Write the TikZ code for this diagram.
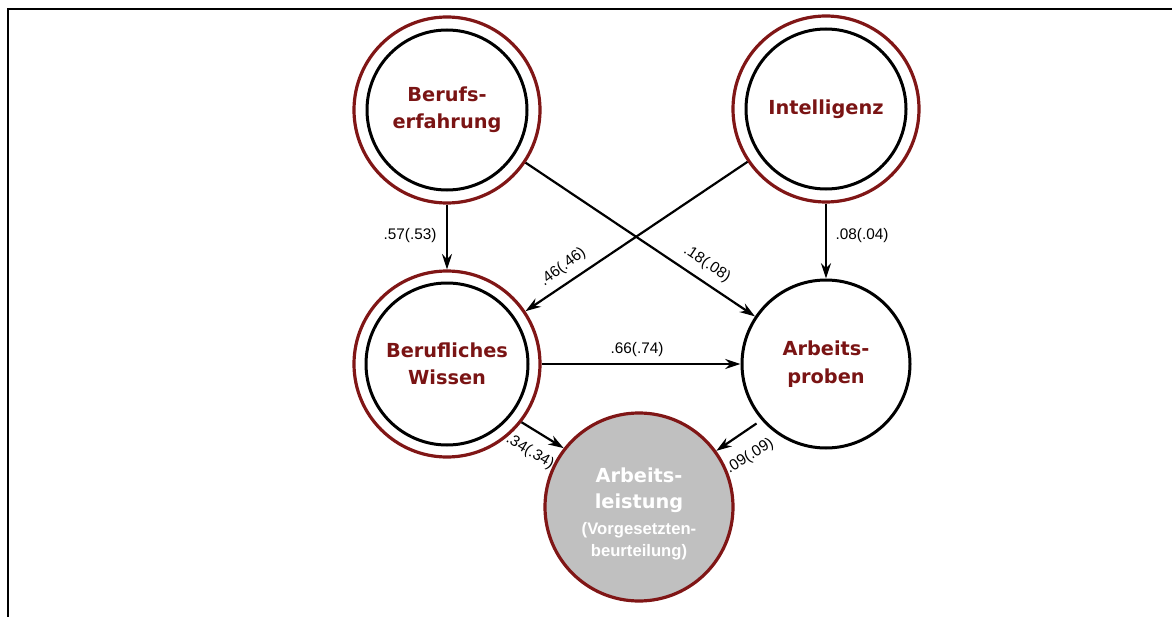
\documentclass[tikz,border=0pt]{standalone}
\usepackage{fontspec}
\setmainfont{DejaVu Sans}
\newfontfamily\coeffont{Liberation Sans}
\usetikzlibrary{arrows.meta}
\newlength{\du}
\setlength{\du}{0.75pt}
\definecolor{ringred}{RGB}{128,22,22}
\definecolor{textred}{RGB}{122,20,20}
\definecolor{critgray}{RGB}{192,192,192}
\tikzset{
  ringnode/.style={circle, draw=ringred, line width=3.2\du, minimum size=186\du,
    inner sep=0pt, align=center, text=textred,
    font=\bfseries\fontsize{14.5}{20.5}\selectfont},
  innerring/.style={draw=black, line width=3\du},
  plainnode/.style={circle, draw=black, line width=3\du, minimum size=168\du,
    inner sep=0pt, align=center, text=textred,
    font=\bfseries\fontsize{14.5}{20.5}\selectfont},
  critnode/.style={circle, draw=ringred, fill=critgray, line width=3.2\du,
    minimum size=188\du, inner sep=0pt, align=center, text=white,
    font=\bfseries\fontsize{14.5}{19.5}\selectfont},
  pathlink/.style={-{Stealth[length=11.5pt,width=7.5pt]}, line width=2.2\du},
  coef/.style={font=\coeffont\fontsize{11.5}{13}\selectfont, inner sep=1\du},
}

\begin{document}
\begin{tikzpicture}
\pgftransformxscale{1.000000}
\pgftransformyscale{-1.000000}
\useasboundingbox (0\du,0\du) rectangle (1172\du,617\du);
% frame
\draw[line width=2\du] (8\du,617\du)--(8\du,9\du)--(1172\du,9\du);
% predictors
\node[ringnode] (be) at (447\du,110\du) {Berufs-\\erfahrung};
\draw[innerring] (be.center) circle (80\du);
\node[ringnode] (in) at (826\du,109\du) {Intelligenz};
\draw[innerring] (in.center) circle (80\du);
\node[ringnode] (bw) at (447\du,364\du) {Berufliches\\Wissen};
\draw[innerring] (bw.center) circle (81\du);
\node[plainnode] (ap) at (826\du,364\du) {Arbeits-\\proben};
% criterion
\node[critnode] (al) at (639\du,507\du) {\rule{0pt}{21pt}Arbeits-\\leistung\\[0pt]{\coeffont\fontsize{12.5}{16.5}\selectfont(Vorgesetzten-}\\[-3pt]{\coeffont\fontsize{12.5}{16.5}\selectfont beurteilung)}};
% paths
\draw[pathlink] (be) -- (bw);
\draw[pathlink] (be) -- (ap);
\draw[pathlink] (in) -- (bw);
\draw[pathlink] (in) -- (ap);
\draw[pathlink] (bw) -- (ap);
\draw[pathlink] (bw.-38) -- (al.142);
\draw[pathlink, shorten <=6\du] (ap.221) -- (al.36);
% coefficients
\node[coef] (c1) at (410\du,236\du) {.57(.53)};
\node[coef] (c2) at (862\du,236\du) {.08(.04)};
\node[coef] (c3) at (637\du,350\du) {.66(.74)};
\node[coef, rotate=37] (c4) at (563\du,267\du) {.46(.46)};
\node[coef, rotate=-34] (c5) at (707\du,264\du) {.18(.08)};
\node[coef, rotate=-31] (c6) at (530\du,452\du) {.34(.34)};
\node[coef, rotate=32] (c7) at (750\du,456\du) {.09(.09)};
\end{tikzpicture}
\end{document}
